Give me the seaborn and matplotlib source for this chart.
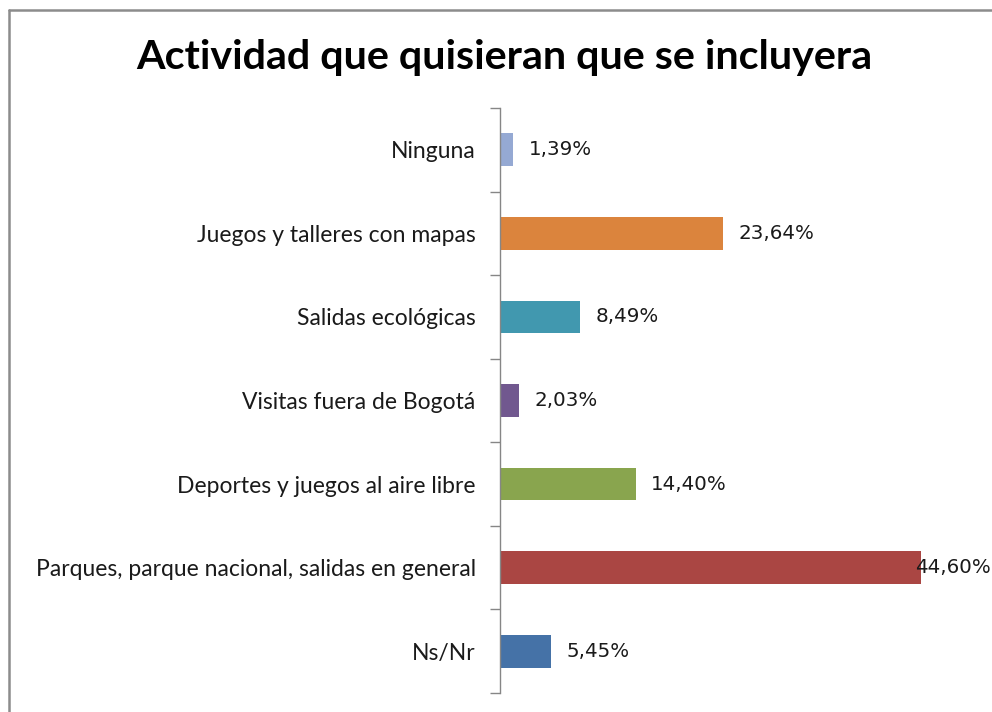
import matplotlib
matplotlib.use("Agg")
import matplotlib.pyplot as plt
import seaborn as sns
import pandas as pd
from matplotlib.lines import Line2D

categories = [
    "Ninguna",
    "Juegos y talleres con mapas",
    "Salidas ecológicas",
    "Visitas fuera de Bogotá",
    "Deportes y juegos al aire libre",
    "Parques, parque nacional, salidas en general",
    "Ns/Nr",
]
values = [1.39, 23.64, 8.49, 2.03, 14.40, 44.60, 5.45]
labels = ["1,39%", "23,64%", "8,49%", "2,03%", "14,40%", "44,60%", "5,45%"]
colors = ["#95A9D3", "#DB843D", "#4198AF", "#71588F", "#89A54E", "#AA4643", "#4572A7"]
title = "Actividad que quisieran que se incluyera"

df = pd.DataFrame({"cat": categories, "val": values})

sns.set_theme(style="white")
plt.rcParams["font.family"] = ["Lato", "DejaVu Sans"]

fig = plt.figure(figsize=(9.92, 7.12), dpi=100)
ax = fig.add_axes([500 / 992, 1 - 693 / 712, 472 / 992, (693 - 108) / 712])

sns.barplot(data=df, y="cat", x="val", hue="cat", palette=colors, legend=False,
            orient="h", width=0.39, ax=ax, saturation=1, linewidth=0)

ax.set_xlim(0, 50)
ax.set_ylim(len(categories) - 0.5, -0.5)
ax.set_xlabel("")
ax.set_ylabel("")
ax.set_xticks([])
ax.set_yticks([i - 0.5 for i in range(len(categories) + 1)], minor=False)
ax.set_yticklabels([])
ax.set_yticks(range(len(categories)), minor=True)
ax.set_yticklabels(categories, minor=True, fontsize=16.5, color="#1a1a1a")
ax.tick_params(axis="y", which="major", length=7, width=1, color="#868686", left=True, direction="out")
ax.tick_params(axis="y", which="minor", length=0, pad=17.5)
for s in ["top", "right", "bottom"]:
    ax.spines[s].set_visible(False)
ax.spines["left"].set_color("#868686")
ax.spines["left"].set_linewidth(1)

xmax = ax.get_xlim()[1]
for i, (v, lab) in enumerate(zip(values, labels)):
    if v > xmax * 0.85:
        ax.annotate(lab, xy=(v, i), xytext=(-4, 0), textcoords="offset points",
                    ha="left", va="center", fontsize=14.3, family="DejaVu Sans",
                    color="#1a1a1a", annotation_clip=False)
    else:
        ax.annotate(lab, xy=(v, i), xytext=(11, 0), textcoords="offset points",
                    ha="left", va="center", fontsize=14.3, family="DejaVu Sans",
                    color="#1a1a1a")

fig.text(504 / 992, 1 - 57 / 712, title, ha="center", va="center",
         fontsize=29.7, fontweight="bold", color="#000000")

# outer chart frame
fig.add_artist(Line2D([9 / 992, 1.0], [1 - 10 / 712, 1 - 10 / 712], transform=fig.transFigure,
                      color="#8c8c8c", linewidth=1.8))
fig.add_artist(Line2D([9 / 992, 9 / 992], [0, 1 - 10 / 712], transform=fig.transFigure,
                      color="#8c8c8c", linewidth=1.8))

fig.savefig("out.png", dpi=100, facecolor="white")
